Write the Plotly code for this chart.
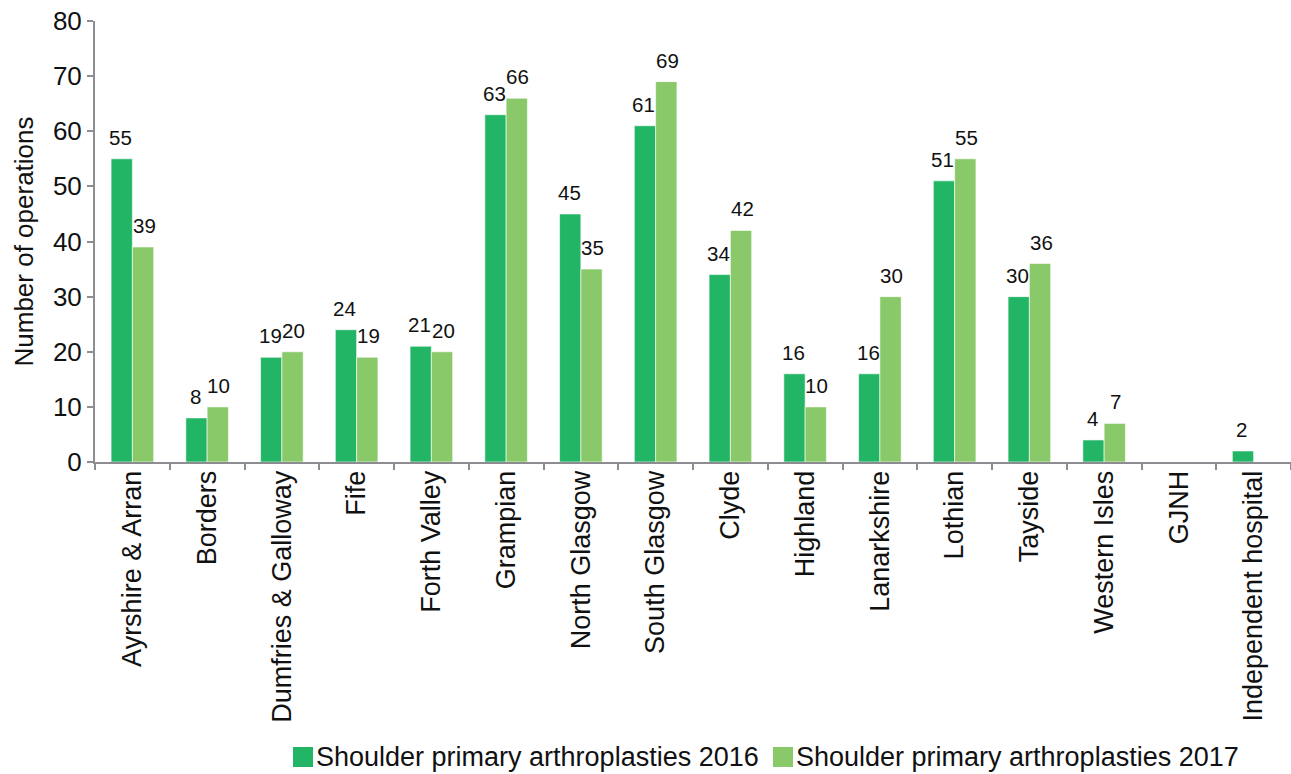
import plotly.graph_objects as go

regions = ["Ayrshire & Arran", "Borders", "Dumfries & Galloway", "Fife", "Forth Valley",
           "Grampian", "North Glasgow", "South Glasgow", "Clyde", "Highland",
           "Lanarkshire", "Lothian", "Tayside", "Western Isles", "GJNH", "Independent hospital"]
ops_2016 = [55, 8, 19, 24, 21, 63, 45, 61, 34, 16, 16, 51, 30, 4, None, 2]
ops_2017 = [39, 10, 20, 19, 20, 66, 35, 69, 42, 10, 30, 55, 36, 7, None, None]
series_names = ["Shoulder primary arthroplasties 2016", "Shoulder primary arthroplasties 2017"]
series_colors = ["#23b566", "#8ac96a"]
y_ticks = [0, 10, 20, 30, 40, 50, 60, 70, 80]

FONT = "Liberation Sans, Arial, sans-serif"
W, H = 1291, 774
L, R, T, B = 95, 0, 21, 312
BARGAP = 0.43

fig = go.Figure()
for name, vals, col in zip(series_names, [ops_2016, ops_2017], series_colors):
    fig.add_trace(go.Bar(
        x=regions, y=vals, name=name,
        marker=dict(color=col, line=dict(color="white", width=0.6)),
        showlegend=False,
    ))

# Value labels above each bar, offset to the centre of its bar in the group
cat_px = (W - L - R) / len(regions)
bar_px = cat_px * (1 - BARGAP) / 2
for k, vals in enumerate([ops_2016, ops_2017]):
    shift = (k - 0.5) * (bar_px + 2)
    for cat, v in zip(regions, vals):
        if v is None:
            continue
        fig.add_annotation(x=cat, y=v, xref="x", yref="y", text=str(v),
                           showarrow=False, xanchor="center", yanchor="bottom",
                           xshift=shift, yshift=8,
                           font=dict(family=FONT, size=20.5, color="#111111"))

axis_col = "#8c8c91"
fig.update_layout(
    width=W, height=H,
    margin=dict(l=L, r=R, t=T, b=B, pad=0),
    paper_bgcolor="white", plot_bgcolor="white",
    barmode="group", bargap=BARGAP, bargroupgap=0,
    font=dict(family=FONT, color="#111111"),
    xaxis=dict(
        showline=True, linecolor=axis_col, linewidth=2,
        ticks="outside", tickcolor=axis_col, ticklen=6, tickwidth=2,
        tickson="boundaries", tickangle=-90, ticklabelstandoff=-4,
        tickfont=dict(family=FONT, size=27, color="#111111"),
        showgrid=False, zeroline=False,
    ),
    yaxis=dict(
        range=[0, 80], tickvals=y_ticks,
        showline=True, linecolor=axis_col, linewidth=2,
        ticks="outside", tickcolor=axis_col, ticklen=6, tickwidth=2,
        tickfont=dict(family=FONT, size=26, color="#111111"),
        showgrid=False, zeroline=False,
        title=dict(text="Number of operations", standoff=12,
                   font=dict(family=FONT, size=26, color="#111111")),
    ),
)

# Legend drawn as swatches plus labels below the category axis
def px_x(px):
    return (px - L) / (W - L - R)

def px_y(py):
    return (H - B - py) / (H - B - T)

legend_items = [(293, series_names[0], series_colors[0]), (773, series_names[1], series_colors[1])]
for x0, label, col in legend_items:
    fig.add_shape(type="rect", xref="paper", yref="paper",
                  x0=px_x(x0), x1=px_x(x0 + 20), y0=px_y(767), y1=px_y(747),
                  fillcolor=col, line=dict(width=0))
    fig.add_annotation(xref="paper", yref="paper", x=px_x(x0 + 21), y=px_y(757),
                       xanchor="left", yanchor="middle", showarrow=False,
                       text=label, font=dict(family=FONT, size=27, color="#111111"))

fig.write_html("out.html")
